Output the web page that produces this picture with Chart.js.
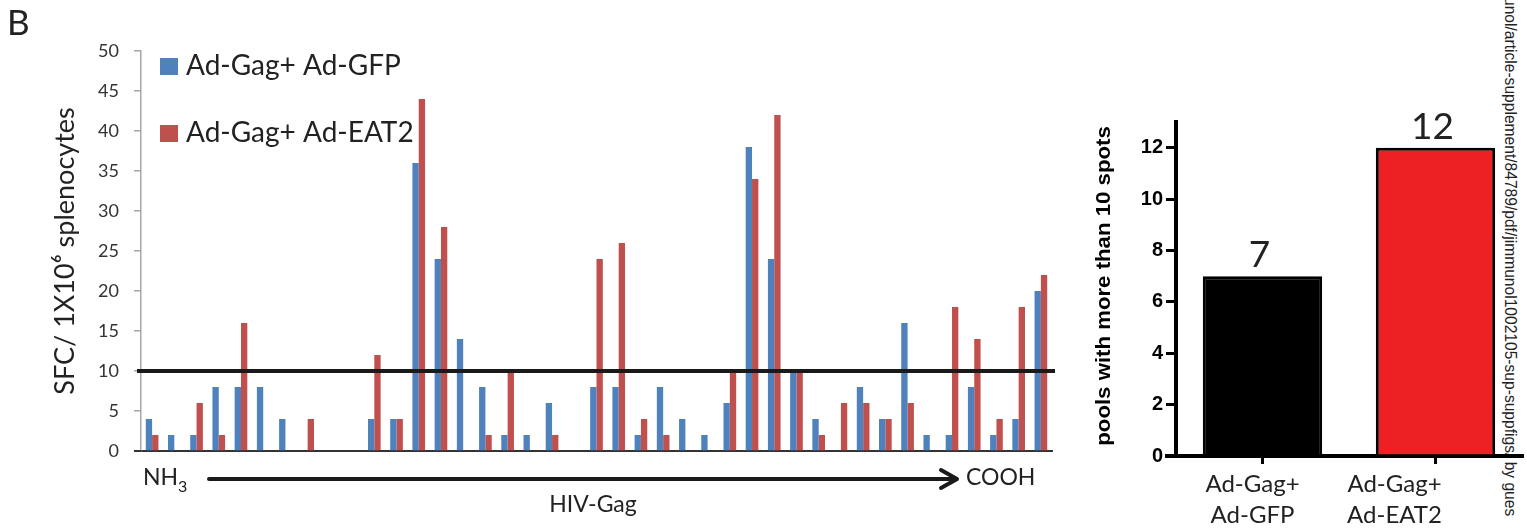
<!DOCTYPE html>
<html>
<head>
<meta charset="utf-8">
<script src="https://cdn.jsdelivr.net/npm/chart.js@4.4.1/dist/chart.umd.min.js"></script>
<style>
html,body{margin:0;padding:0;background:#fff;width:1527px;height:529px;overflow:hidden;}
#wm{position:absolute;left:1501px;top:-3px;writing-mode:vertical-rl;font:15.6px 'Liberation Sans',Arial,sans-serif;line-height:18px;color:#222;white-space:nowrap;}
#c1{position:absolute;left:0;top:0;}
#c2{position:absolute;left:1060px;top:0;}
</style>
</head>
<body>
<div id="wm">unol/article-supplement/84789/pdf/jimmunol1002105-sup-suppfigs/ by gues</div>
<canvas id="c1" width="1060" height="529"></canvas>
<canvas id="c2" width="467" height="529"></canvas>
<script>
// ---------- data: left panel ----------
const pools = ['1','2','3','4','5','6','7','8','9','10','11','12','13','14','15','16','17','18','19','20',
               '21','22','23','24','25','26','27','28','29','30','31','32','33','34','35','36','37','38','39','40','41'];
const seriesNames = ['Ad-Gag+ Ad-GFP', 'Ad-Gag+ Ad-EAT2'];
const gfp  = [4,2,2,8,8,8,4,0,0,0, 4,4,36,24,14,8,2,2,6,0, 8,8,2,8,4,2,6,38,24,10, 4,0,8,4,16,2,2,8,2,4,20];
const eat2 = [2,0,6,2,16,0,0,4,0,0, 12,4,44,28,0,2,10,0,2,0, 24,26,4,2,0,0,10,34,42,10, 2,6,6,4,6,0,18,14,4,18,22];
const yTicksLeft = {min: 0, max: 50, step: 5};
const threshold = 10;

// ---------- data: right panel ----------
const groups = [['Ad-Gag+','Ad-GFP'], ['Ad-Gag+','Ad-EAT2']];
const counts = [7, 12];
const yTicksRight = {min: 0, max: 13, step: 2};
const rightTitle = 'pools with more than 10 spots';

// ---------- styles ----------
const BLUE = '#4F81BD', RED = '#C0504D';
const TXT = '#222';
const labelShift = [-10, -41];

const leftDecor = {
  id: 'leftDecor',
  afterDatasetsDraw(chart) {
    const {ctx, chartArea: a, scales: {y}} = chart;
    const ty = y.getPixelForValue(threshold);
    const by = y.getPixelForValue(0);
    ctx.save();
    // baseline stub extending left of the axis
    ctx.strokeStyle = '#333';
    ctx.lineWidth = 2;
    ctx.beginPath(); ctx.moveTo(a.left - 7, by); ctx.lineTo(a.left, by); ctx.stroke();
    ctx.strokeStyle = '#1a1a1a';
    ctx.lineWidth = 4;
    ctx.beginPath();
    ctx.moveTo(a.left - 4, ty);
    ctx.lineTo(a.right + 3, ty);
    ctx.stroke();
    ctx.restore();
  },
  afterDraw(chart) {
    const {ctx} = chart;
    ctx.save();
    ctx.textBaseline = 'alphabetic';
    chart.data.datasets.forEach((ds, i) => {
      const y0 = 58 + i * 67;
      ctx.fillStyle = ds.backgroundColor;
      ctx.fillRect(160, y0, 18, 17);
      ctx.fillStyle = TXT;
      ctx.font = '28px Lato';
      ctx.fillText(ds.label, 186, y0 + 17);
    });
    ctx.fillStyle = TXT;
    ctx.font = '35px Lato';
    ctx.fillText('B', 7, 35);
    ctx.font = '23px Lato';
    ctx.fillText('NH', 143, 485);
    const w = ctx.measureText('NH').width;
    ctx.font = '16px Lato';
    ctx.fillText('3', 143 + w, 492);
    ctx.strokeStyle = '#1a1a1a';
    ctx.lineWidth = 4;
    ctx.lineCap = 'round';
    ctx.lineJoin = 'round';
    ctx.beginPath(); ctx.moveTo(209, 479); ctx.lineTo(954, 479); ctx.stroke();
    ctx.beginPath(); ctx.moveTo(941, 470); ctx.lineTo(957, 479); ctx.lineTo(941, 488); ctx.stroke();
    ctx.font = '23px Lato';
    ctx.fillText('COOH', 966, 485);
    ctx.textAlign = 'center';
    ctx.fillText('HIV-Gag', 593, 512);
    ctx.restore();
  }
};

new Chart(document.getElementById('c1'), {
  type: 'bar',
  data: {
    labels: pools,
    datasets: [
      {label: seriesNames[0], data: gfp, backgroundColor: BLUE, categoryPercentage: 0.57, barPercentage: 1},
      {label: seriesNames[1], data: eat2, backgroundColor: RED, categoryPercentage: 0.57, barPercentage: 1}
    ]
  },
  options: {
    responsive: false,
    animation: false,
    layout: {padding: {top: 51, right: 8, bottom: 78, left: 0}},
    plugins: {legend: {display: false}, tooltip: {enabled: false}},
    scales: {
      x: {
        ticks: {display: false},
        grid: {display: true, drawOnChartArea: false, drawTicks: false},
        border: {display: true, color: '#333', width: 2},
        afterFit(s) { s.height = 0; }
      },
      y: {
        min: yTicksLeft.min, max: yTicksLeft.max,
        ticks: {stepSize: yTicksLeft.step, color: '#333', font: {family: 'Lato', size: 18}, padding: 15},
        grid: {drawOnChartArea: false, tickLength: 7, color: '#a6a6a6', lineWidth: 1.5},
        border: {display: true, color: '#a6a6a6', width: 1.5},
        title: {display: true, text: 'SFC/ 1X10⁶ splenocytes', color: TXT,
                font: {family: 'Lato, "DejaVu Sans"', size: 27}, padding: {top: 49, bottom: 0}},
        afterFit(s) { s.width = 141; }
      }
    }
  },
  plugins: [leftDecor]
});

const rightDecor = {
  id: 'rightDecor',
  afterDatasetsDraw(chart) {
    const {ctx, chartArea: a} = chart;
    const meta = chart.getDatasetMeta(0);
    ctx.save();
    // x-axis line stub extending left of the y axis
    ctx.strokeStyle = '#000';
    ctx.lineWidth = 4;
    ctx.beginPath(); ctx.moveTo(a.left - 11, a.bottom); ctx.lineTo(a.left, a.bottom); ctx.stroke();
    ctx.fillStyle = TXT;
    ctx.textAlign = 'center';
    ctx.textBaseline = 'alphabetic';
    ctx.font = '37px Lato';
    meta.data.forEach((bar, i) => {
      ctx.fillText(String(counts[i]), bar.x - 3, bar.y - 9);
    });
    ctx.font = '24px Lato';
    const xs = chart.scales.x;
    groups.forEach((g, i) => {
      const px = xs.getPixelForValue(i) + labelShift[i];
      g.forEach((line, j) => ctx.fillText(line, px, 492 + j * 31));
    });
    // y-axis title (slightly stretched along its length, as in the original)
    ctx.fillStyle = '#000';
    ctx.font = 'bold 20px "Liberation Sans"';
    ctx.textBaseline = 'middle';
    ctx.translate(44, (a.top + a.bottom) / 2 - 3);
    ctx.rotate(-Math.PI / 2);
    ctx.scale(1.11, 1);
    ctx.fillText(rightTitle, 0, 0);
    ctx.restore();
  }
};

new Chart(document.getElementById('c2'), {
  type: 'bar',
  data: {
    labels: groups,
    datasets: [{
      data: counts,
      backgroundColor: ['#000000', '#ED2024'],
      borderColor: '#000',
      borderWidth: 3,
      categoryPercentage: 0.69,
      barPercentage: 1
    }]
  },
  options: {
    responsive: false,
    animation: false,
    layout: {padding: {top: 122, right: 5, bottom: 0, left: 0}},
    plugins: {legend: {display: false}, tooltip: {enabled: false}},
    scales: {
      x: {
        ticks: {display: false},
        grid: {display: true, drawOnChartArea: false, offset: false, tickLength: 8, lineWidth: 3, color: '#000'},
        border: {display: true, color: '#000', width: 4},
        afterFit(s) { s.height = 73; }
      },
      y: {
        min: yTicksRight.min, max: yTicksRight.max,
        afterBuildTicks(s) { s.ticks = s.ticks.filter(t => t.value % yTicksRight.step === 0); },
        ticks: {stepSize: yTicksRight.step, color: '#000', font: {family: '"Liberation Sans"', weight: 'bold', size: 20}, padding: 3},
        grid: {drawOnChartArea: false, tickLength: 10, lineWidth: 3, color: '#000'},
        border: {display: true, color: '#000', width: 4},
        afterFit(s) { s.width = 116; }
      }
    }
  },
  plugins: [rightDecor]
});
</script>
</body>
</html>
